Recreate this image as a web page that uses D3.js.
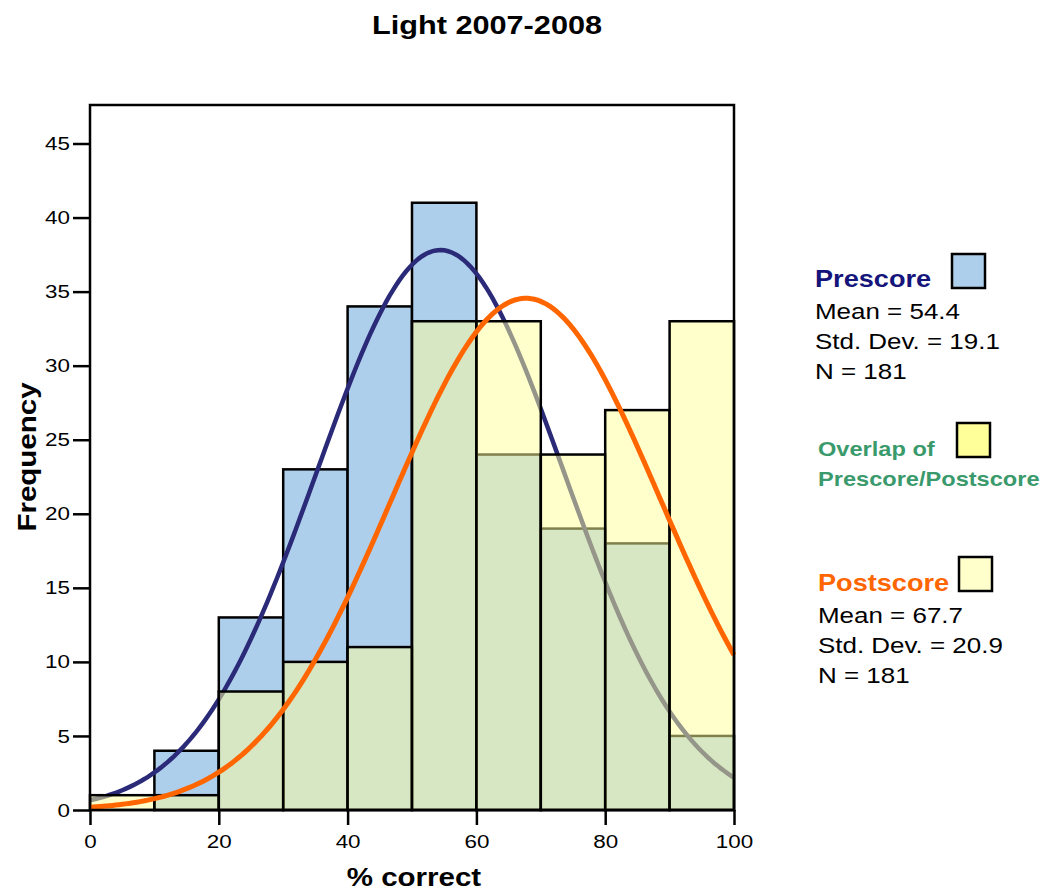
<!DOCTYPE html>
<html lang="en">
<head>
<meta charset="UTF-8">
<title>Light 2007-2008</title>
<script src="https://d3js.org/d3.v7.min.js"></script>
<style>
  body { margin: 0; background: #fff; }
  text { font-family: "Liberation Sans", Arial, sans-serif; }
</style>
</head>
<body>
<div id="chart"></div>
<script>
// bins of % correct (width 10)
const binStarts = [0, 10, 20, 30, 40, 50, 60, 70, 80, 90];
const binWidth = 10;
const preCounts = [0, 4, 13, 23, 34, 41, 24, 19, 18, 5];
const postCounts = [1, 1, 8, 10, 11, 33, 33, 24, 27, 33];

// summary stats shown in the legend (used for the fitted normal curves)
const preStats = [54.4, 19.1, 181];   // mean, sd, n
const postStats = [67.7, 20.9, 181];

const xTicks = [0, 20, 40, 60, 80, 100];
const yTicks = [0, 5, 10, 15, 20, 25, 30, 35, 40, 45];

const W = 1045, H = 890;
const SX = 1.18; // the original lettering is a bit wider than Arial
const svg = d3.select("#chart").append("svg")
    .attr("width", W).attr("height", H);

const plotL = 90, plotR = 734, plotT = 105, plotB = 810;
const x = d3.scaleLinear().domain([0, 100]).range([plotL, plotR]);
const y = d3.scaleLinear().domain([0, 47.6]).range([plotB, plotT]);

// text helper, stretched horizontally around its anchor
function label(parent, tx, ty, str, size, opts = {}) {
    return parent.append("text")
        .attr("transform", `translate(${tx},${ty}) rotate(${opts.rotate || 0}) scale(${SX},1)`)
        .attr("text-anchor", opts.anchor || "start")
        .attr("font-size", size)
        .attr("font-weight", opts.bold ? "bold" : "normal")
        .attr("fill", opts.color || "#000")
        .text(str);
}

// title
label(svg, 487, 34, "Light 2007-2008", 26, { anchor: "middle", bold: true });

// prescore bars
svg.append("g").selectAll("rect")
    .data(binStarts.map((b, i) => ({ b, v: preCounts[i] })).filter(d => d.v > 0))
    .join("rect")
    .attr("x", d => x(d.b))
    .attr("y", d => y(d.v))
    .attr("width", d => x(d.b + binWidth) - x(d.b))
    .attr("height", d => y(0) - y(d.v))
    .attr("fill", "#aecfec")
    .attr("stroke", "#000")
    .attr("stroke-width", 2.5);

// normal curve helper
function normalCurve(stats) {
    const [m, s, n] = stats;
    const pts = d3.range(0, 100.5, 0.5);
    return pts.map(v => [v, n * binWidth * Math.exp(-0.5 * ((v - m) / s) ** 2) / (s * Math.sqrt(2 * Math.PI))]);
}
const line = d3.line().x(d => x(d[0])).y(d => y(d[1]));

// prescore curve (sits under the translucent postscore bars)
svg.append("path").datum(normalCurve(preStats))
    .attr("d", line).attr("fill", "none")
    .attr("stroke", "#2a2a78").attr("stroke-width", 4.5);

// postscore bars, half transparent so the overlap shows green
svg.append("g").selectAll("rect")
    .data(binStarts.map((b, i) => ({ b, v: postCounts[i] })))
    .join("rect")
    .attr("x", d => x(d.b))
    .attr("y", d => y(d.v))
    .attr("width", d => x(d.b + binWidth) - x(d.b))
    .attr("height", d => y(0) - y(d.v))
    .attr("fill", "#ffff99")
    .attr("fill-opacity", 0.5)
    .attr("stroke", "#000")
    .attr("stroke-width", 2.5);

// postscore curve
svg.append("path").datum(normalCurve(postStats))
    .attr("d", line).attr("fill", "none")
    .attr("stroke", "#ff6600").attr("stroke-width", 5);

// frame
svg.append("rect").attr("x", plotL).attr("y", plotT)
    .attr("width", plotR - plotL).attr("height", plotB - plotT)
    .attr("fill", "none").attr("stroke", "#000").attr("stroke-width", 2.5);

// axes
const yAxis = svg.append("g").attr("transform", `translate(${plotL},0)`)
    .call(d3.axisLeft(y).tickValues(yTicks).tickSize(17).tickPadding(3));
const xAxis = svg.append("g").attr("transform", `translate(0,${plotB})`)
    .call(d3.axisBottom(x).tickValues(xTicks).tickSize(15).tickPadding(10));
[yAxis, xAxis].forEach(g => {
    g.select(".domain").remove();
    g.selectAll(".tick line").attr("stroke", "#000").attr("stroke-width", 2.5);
    g.selectAll(".tick text").attr("font-size", 19).attr("fill", "#000")
        .attr("font-family", "Liberation Sans, Arial, sans-serif");
});
yAxis.selectAll(".tick text").attr("x", -20 / SX).attr("transform", `scale(${SX},1)`);
xAxis.selectAll(".tick text").attr("transform", `scale(${SX},1)`);

// axis titles
label(svg, (plotL + plotR) / 2 + 2, 886, "% correct", 25, { anchor: "middle", bold: true });
label(svg, 36, 457, "Frequency", 25, { anchor: "middle", bold: true, rotate: -90 });

// legend
const leg = svg.append("g");
function legBox(bx, by, fill) {
    leg.append("rect").attr("x", bx).attr("y", by).attr("width", 33).attr("height", 34)
        .attr("fill", fill).attr("stroke", "#000").attr("stroke-width", 2.5);
}
label(leg, 815, 287, "Prescore", 23, { bold: true, color: "#14147a" });
legBox(952, 254, "#aecfec");
label(leg, 815, 319, "Mean = " + preStats[0], 22);
label(leg, 815, 349, "Std. Dev. = " + preStats[1], 22);
label(leg, 815, 379, "N = " + preStats[2], 22);

label(leg, 818, 456, "Overlap of", 20, { bold: true, color: "#3a9a6c" });
label(leg, 818, 486, "Prescore/Postscore", 20, { bold: true, color: "#3a9a6c" });
legBox(957, 423, "#ffff99");

label(leg, 818, 591, "Postscore", 23, { bold: true, color: "#ff6600" });
legBox(959, 557, "#ffffcc");
label(leg, 818, 623, "Mean = " + postStats[0], 22);
label(leg, 818, 653, "Std. Dev. = " + postStats[1], 22);
label(leg, 818, 683, "N = " + postStats[2], 22);
</script>
</body>
</html>
